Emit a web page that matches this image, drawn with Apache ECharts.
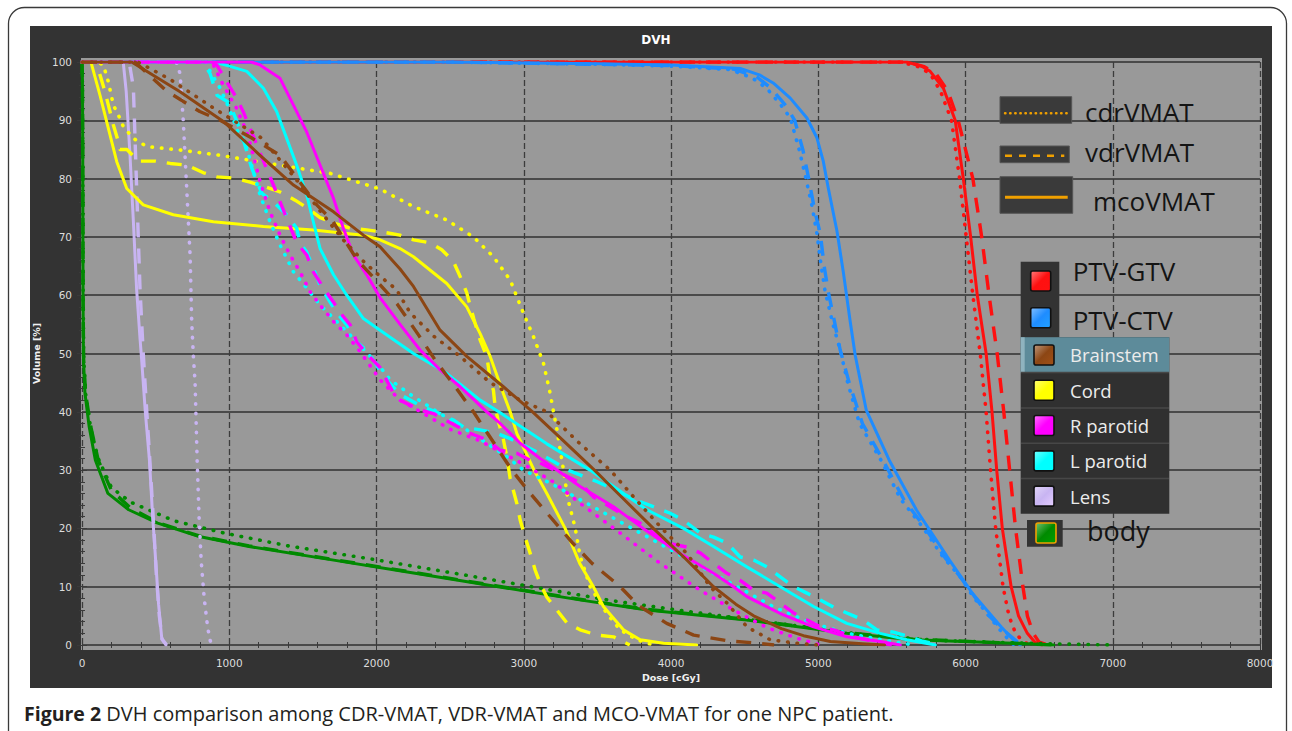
<!DOCTYPE html>
<html><head><meta charset="utf-8">
<script src="https://cdn.jsdelivr.net/npm/echarts@6/dist/echarts.min.js"></script>
<style>html,body{margin:0;padding:0;background:#fff;}#chart{width:1292px;height:731px;}</style>
</head><body><div id="chart"></div>
<script>
// ---- categories / labels ----
const methods = ['cdrVMAT', 'vdrVMAT', 'mcoVMAT'];
const structures = ['PTV-GTV', 'PTV-CTV', 'Brainstem', 'Cord', 'R parotid', 'L parotid', 'Lens', 'body'];
const structureColors = ['#ff1010', '#1e8cff', '#8c4614', '#ffff00', '#ff00ff', '#00ffff', '#c8b4f2', '#008a00'];
const chartTitle = 'DVH';
const xAxisName = 'Dose [cGy]';
const yAxisName = 'Volume [%]';
const doseRange = [0, 8000];
const volumeRange = [0, 100];
const caption = 'Figure 2';
const captionText = ' DVH comparison among CDR-VMAT, VDR-VMAT and MCO-VMAT for one NPC patient.';

// ---- series values: [dose cGy, volume %] ----
const gtvCdr = [[0,100],[5560,100],[5680,99.2],[5760,98],[5830,95],[5905,90],[5960,80],[6005,70],[6050,60],[6100,50],[6140,40],[6170,30],[6205,20],[6255,10],[6295,5],[6340,2],[6395,0.5],[6450,0]];
const gtvVdr = [[0,100],[5600,100],[5720,99.2],[5800,98],[5880,95],[5950,90],[6050,80],[6110,70],[6160,60],[6215,50],[6260,40],[6300,30],[6340,20],[6390,10],[6420,5],[6460,2],[6500,0.5],[6560,0]];
const gtvMco = [[0,100],[5600,100],[5700,99.3],[5760,98.4],[5850,95.5],[5930,90],[5985,80],[6035,70],[6080,60],[6140,50],[6180,40],[6212,30],[6250,20],[6310,10],[6360,5],[6420,2],[6470,0.5],[6520,0]];

const ctvCdr = [[0,100],[2500,100],[3500,99.6],[4000,99.3],[4400,98.7],[4550,97.3],[4650,95.5],[4750,92.5],[4810,90.4],[4870,85],[4912,80.5],[4960,75],[4991,70.6],[5020,65],[5047,60.6],[5100,55],[5149,50.6],[5200,45],[5280,38],[5426,31.7],[5560,25],[5707,20.3],[5850,15],[5961,11.8],[6060,8],[6128,6],[6220,3],[6290,1],[6330,0]];
const ctvVdr = [[0,100],[2500,100],[3500,99.6],[4000,99.4],[4420,98.8],[4580,97.5],[4680,95.5],[4780,92.5],[4840,90],[4895,85],[4935,80],[4980,74],[5014,70.6],[5040,65],[5068,60.6],[5110,55.5],[5149,50.6],[5210,45],[5300,38],[5440,31.7],[5580,25],[5720,20.3],[5860,15],[5961,11.8],[6070,8],[6160,5],[6260,2.5],[6330,1],[6380,0]];
const ctvMco = [[0,100],[2500,100],[3500,99.7],[4000,99.5],[4470,98.9],[4600,97.8],[4694,96.4],[4810,93.8],[4923,90.4],[4991,87],[5034,83],[5068,78.4],[5127,71],[5170,64],[5217,55.5],[5251,49.7],[5326,40.3],[5482,31.7],[5666,23.2],[5890,14.6],[6046,8.9],[6243,3.1],[6325,0.9],[6372,0]];

const bsCdr = [[0,100],[380,100],[600,97],[900,92],[1217,87],[1450,80],[1600,75],[1774,69.5],[1923,65.5],[2036,63],[2135,61],[2228,57],[2387,53],[2568,49.5],[2772,45],[2976,42],[3157,40],[3383,34.5],[3587,30],[3760,25],[3938,20],[4108,15.7],[4266,10],[4380,7.2],[4516,3.1],[4674,0.9],[4855,0.3],[5000,0]];
const bsVdr = [[0,100],[360,100],[575,95],[800,91.5],[938,90],[1150,87],[1345,84],[1594,75.5],[1700,72.8],[1870,66],[2000,62.5],[2140,58.5],[2285,53.2],[2398,48.9],[2534,44.3],[2658,40],[2783,35.2],[2919,30],[3044,26],[3247,20],[3328,17.6],[3464,14],[3655,10],[3777,6.8],[3971,3.7],[4154,1.7],[4392,0.7],[4600,0.3],[4700,0]];
const bsMco = [[0,100],[337,100],[666,94.9],[960,89.8],[1209,84],[1436,78.9],[1708,74.3],[1911,70.3],[2024,68.3],[2160,64.5],[2251,61.5],[2432,54],[2613,49.5],[2862,44.3],[3060,40],[3270,35],[3480,30],[3680,25],[3880,20],[4090,15],[4289,10],[4440,7],[4561,5],[4750,2.8],[4900,1.6],[5082,0.6],[5300,0.2],[5450,0]];

const cordCdr = [[0,100],[100,100],[145,99.5],[179,96.6],[213,92.6],[247,90.9],[281,88.9],[349,86.9],[440,85.5],[666,84.9],[938,84],[1345,82.3],[1685,80.9],[2024,78.2],[2251,75.2],[2477,72.9],[2658,70],[2794,66.6],[2908,62.6],[2998,56.9],[3066,52.9],[3134,48.3],[3179,43.2],[3202,40],[3225,37],[3270,30],[3300,25],[3350,20],[3383,15.2],[3451,10],[3564,5.4],[3655,2.6],[3768,0.9],[3880,0]];
const cordVdr = [[0,100],[90,100],[122,97.8],[156,94.9],[179,92.6],[213,89.2],[247,86.3],[258,85],[305,85],[383,83],[500,83],[600,82.6],[713,82.3],[825,81],[917,80.3],[1028,80.1],[1141,79.4],[1243,78.6],[1345,77.7],[1447,76.3],[1528,75],[1617,73.3],[1708,72.4],[1820,71.5],[1934,71.2],[2047,70.8],[2160,70.3],[2251,69.5],[2364,69],[2443,67.8],[2522,65.8],[2568,63.2],[2613,60.4],[2660,56],[2704,52.3],[2750,49.4],[2772,45.5],[2794,43.7],[2806,40.8],[2828,38.3],[2862,35.2],[2885,32.3],[2908,28.5],[2953,24.3],[2976,21.4],[3009,18.5],[3043,15.8],[3077,12.9],[3111,10.6],[3157,8.2],[3225,6],[3293,3.8],[3383,2.6],[3497,1.7],[3610,1.4],[3680,0.5],[3720,0]];
const cordMco = [[0,100],[60,100],[66,99.5],[122,94.3],[179,88.6],[236,82.9],[304,78.3],[416,75.5],[620,73.8],[892,72.6],[1232,71.8],[1571,71.2],[1911,70.3],[2024,69.5],[2160,68],[2251,66.6],[2477,62],[2613,58],[2704,53.4],[2772,49.5],[2862,43.1],[2908,40],[2953,36.3],[3070,30],[3157,26],[3281,20],[3380,14],[3473,10],[3541,6.6],[3677,2.6],[3791,0.9],[3950,0.3],[4175,0]];

const rpCdr = [[0,100],[860,100],[892,99.5],[960,96],[1051,92],[1119,88],[1164,84],[1209,79.5],[1277,74.3],[1345,70.3],[1413,66.9],[1481,64],[1549,60.6],[1617,58.3],[1708,55.5],[1798,53.2],[1889,50.3],[2024,45.5],[2160,42],[2300,40],[2500,37],[2704,35],[2998,31],[3200,28],[3383,24.3],[3655,19.2],[3927,14],[4198,9.4],[4425,6],[4650,3],[4850,1.2],[5014,0]];
const rpVdr = [[0,100],[880,100],[915,99.5],[983,96.6],[1051,93.8],[1096,91.4],[1200,85],[1300,78.9],[1345,76],[1458,69],[1526,66.9],[1571,64],[1639,61.3],[1708,58.8],[1753,57],[1821,54.9],[1866,52],[1950,49.5],[2024,47.6],[2115,43.2],[2160,42],[2296,40.3],[2387,39.7],[2636,36.3],[2750,35.2],[2840,33.4],[2953,32.9],[3043,31.7],[3089,31.5],[3383,27.8],[3473,25.4],[3700,22],[3790,20.9],[3880,19.2],[3972,17.5],[4108,16.8],[4198,15.8],[4289,14],[4380,12.3],[4470,11.1],[4560,9.4],[4650,8.9],[4742,7.2],[4832,5.5],[4923,4.3],[5014,3.1],[5104,2.6],[5240,1.4],[5330,0.9],[5500,0]];
const rpMco = [[0,100],[1150,100],[1209,99.5],[1345,97.2],[1436,92.6],[1526,88],[1617,82.3],[1708,76.6],[1776,71.4],[1843,66.9],[1934,63.5],[2024,59.6],[2160,55],[2296,50.6],[2432,47.2],[2568,44.3],[2749,40],[2840,38],[2976,34.6],[3111,32],[3225,30],[3383,27.2],[3610,23.7],[3811,20],[4062,15.7],[4289,12.3],[4425,10],[4515,8.3],[4742,5.4],[4968,3.1],[5194,1.4],[5421,0.6],[5557,0]];

const lpCdr = [[0,100],[840,100],[870,98.4],[938,95.5],[1000,92],[1060,88],[1119,85.2],[1164,81.2],[1209,77.2],[1277,72.6],[1345,68.6],[1436,64],[1526,61.2],[1617,58.3],[1730,55.5],[1866,52],[2024,47.7],[2092,45.5],[2251,42.6],[2432,39.7],[2613,36.9],[2885,32.3],[2998,30],[3200,27.5],[3450,24],[3700,20.5],[3950,17],[4200,13.5],[4450,10],[4700,6.5],[4950,3.8],[5200,2],[5450,0.8],[5650,0]];
const lpVdr = [[0,100],[820,100],[870,98],[917,94.3],[1000,93],[1080,88],[1150,82],[1220,77.5],[1300,76],[1390,73.8],[1458,71.5],[1481,69],[1526,67.4],[1571,64.6],[1617,61.7],[1685,58.8],[1730,57],[1798,54.9],[1866,52],[1911,51],[1957,49.7],[2050,46],[2160,43],[2300,41],[2432,39.7],[2522,38.6],[2590,37.4],[2704,36.9],[2817,36.3],[2908,35.4],[3100,33],[3300,30],[3500,28],[3750,25],[3995,22.6],[4085,21.4],[4198,19.2],[4289,18.5],[4380,17.5],[4470,15.1],[4561,14.6],[4651,13.4],[4742,11.7],[4832,10],[4923,8.9],[5014,7.7],[5104,6.5],[5194,5.5],[5306,4.3],[5398,2.6],[5511,2.2],[5625,1.4],[5700,0.7],[5830,0]];
const lpMco = [[0,100],[900,100],[1000,99.3],[1119,98.4],[1232,95.5],[1322,91.5],[1390,86.9],[1458,82.3],[1526,77.2],[1571,72.6],[1617,68],[1708,63.5],[1798,60],[1911,56],[2024,54],[2251,50],[2477,46.6],[2704,42],[2830,40],[3157,34.5],[3450,30],[3610,27.2],[3836,23.2],[4085,20],[4289,16.9],[4515,13.4],[4742,10],[4968,6.6],[5194,3.7],[5421,2],[5602,0.9],[5795,0]];

const lensCdr = [[0,100],[640,100],[666,98],[688,89.8],[711,78.3],[734,66.9],[745,55.5],[756,49.7],[768,45],[782,31.7],[795,22],[809,14.6],[830,8],[853,3.1],[868,1],[880,0]];
const lensVdr = [[0,100],[320,100],[340,97],[349,95.5],[371,78.4],[394,61],[416,50],[440,40],[465,30],[488,20],[505,12],[525,5],[545,1],[575,0]];
const lensMco = [[0,100],[280,100],[300,95],[326,84],[349,72.6],[371,61],[394,52.6],[405,49],[430,40],[458,31.7],[480,22],[500,14.6],[520,7],[542,1],[570,0]];

const bodyCdr = [[0,100],[3,96],[5,85],[8,60],[12,49],[25,43],[60,37],[110,32],[200,27],[330,24.5],[625,21.3],[965,19.2],[1400,17],[2000,14.6],[2600,12],[3100,9.8],[3600,7.6],[4100,5.8],[4700,3.8],[5300,1.8],[5800,0.8],[6400,0.3],[7000,0]];
const bodyVdr = [[0,100],[3,97],[5,85],[7,60],[11,49],[25,43],[60,37.4],[110,31.7],[200,26.5],[330,23.5],[514,21],[796,18.7],[1134,17],[1698,14.7],[2262,12.4],[2826,10.1],[3390,7.8],[3838,6.1],[4515,4.4],[5194,2.1],[5645,1],[6325,0.3],[6600,0]];
const bodyMco = [[0,100],[3,97],[5,85],[7,60],[10,49],[20,43.2],[49,37.4],[91,31.7],[176,26],[317,23.2],[514,20.9],[796,18.6],[1134,16.9],[1698,14.6],[2262,12.3],[2826,10],[3390,7.7],[3838,6],[4515,4.3],[5194,2],[5645,0.9],[6325,0.3],[6600,0]];

// structure -> [cdr, vdr, mco]; listed in drawing order (first = bottom)
const structureSeries = {
  'PTV-GTV': [gtvCdr, gtvVdr, gtvMco],
  'PTV-CTV': [ctvCdr, ctvVdr, ctvMco],
  'body': [bodyCdr, bodyVdr, bodyMco],
  'Lens': [lensCdr, lensVdr, lensMco],
  'Cord': [cordCdr, cordVdr, cordMco],
  'L parotid': [lpCdr, lpVdr, lpMco],
  'R parotid': [rpCdr, rpVdr, rpMco],
  'Brainstem': [bsCdr, bsVdr, bsMco]
};

// ---- styles ----
const methodStyles = [
  { type: [0.5, 9], width: 3.6, cap: 'round' },
  { type: [15, 11], width: 3.4, cap: 'butt' },
  { type: 'solid', width: 3, cap: 'round' }
];
const labelFont = 'DejaVu Sans';
const axisNameFont = 'DejaVu Sans';
const legendFont = 'Open Sans';
const orange = '#f0a000';

const series = [];
Object.keys(structureSeries).forEach(function (s) {
  const color = structureColors[structures.indexOf(s)];
  structureSeries[s].forEach(function (data, mi) {
    const st = methodStyles[mi];
    series.push({
      type: 'line', name: s + ' ' + methods[mi], data: data,
      xAxisIndex: 0, yAxisIndex: 0,
      showSymbol: false, symbol: 'none', smooth: false, silent: true,
      animation: false, clip: true,
      lineStyle: { color: color, width: st.width, type: st.type, cap: st.cap, join: 'round' }
    });
  });
});

// ---- decorations and legend (graphic) ----
const g = [];
g.push({ type: 'rect', z: -30, shape: { x: 8.5, y: 7.5, width: 1278, height: 745, r: 16 }, style: { fill: '#ffffff', stroke: '#3a3a3a', lineWidth: 1.3 } });
g.push({ type: 'rect', z: -20, shape: { x: 30, y: 26, width: 1242, height: 662 }, style: { fill: '#333333' } });
g.push({ type: 'rect', z: -10, shape: { x: 81, y: 58, width: 1181, height: 592 }, style: { fill: '#999999' } });
g.push({ type: 'text', z: 50, x: 656, y: 40, style: { text: chartTitle, fill: '#ffffff', font: 'bold 12px "DejaVu Sans"', textAlign: 'center', textVerticalAlign: 'middle', align: 'center', verticalAlign: 'middle' } });

// method legend
const methodBoxes = [
  { x: 1000, y: 96.7, w: 71.7, h: 26.6, ly: 113.3, tx: 1085, ty: 112, dash: [0.5, 4.6], lw: 2.4, cap: 'round' },
  { x: 1000, y: 146, w: 69.3, h: 16.7, ly: 155.7, tx: 1085, ty: 152, dash: [7, 7], lw: 2.6, cap: 'butt' },
  { x: 1000, y: 176.7, w: 72.7, h: 36.6, ly: 197.3, tx: 1093, ty: 201, dash: null, lw: 3, cap: 'butt' }
];
methodBoxes.forEach(function (b, i) {
  g.push({ type: 'rect', z: 100, shape: { x: b.x, y: b.y, width: b.w, height: b.h }, style: { fill: '#3a3a3a', stroke: '#555', lineWidth: 1 } });
  g.push({ type: 'line', z: 101, shape: { x1: b.x + 5, y1: b.ly, x2: b.x + b.w - 5, y2: b.ly }, style: { stroke: orange, lineWidth: b.lw, lineDash: b.dash, lineCap: b.cap } });
  g.push({ type: 'text', z: 101, x: b.tx, y: b.ty, style: { text: methods[i], fill: '#141414', font: '26px "' + legendFont + '"', textAlign: 'left', textVerticalAlign: 'middle', align: 'left', verticalAlign: 'middle' } });
});

function square(x, yc, color, stroke) {
  return { type: 'rect', z: 102, shape: { x: x, y: yc - 10, width: 20, height: 20, r: 2 },
    style: { fill: { type: 'linear', x: 0, y: 0, x2: 1, y2: 1, colorStops: [{ offset: 0, color: echarts.color.lift(color, 0.45) }, { offset: 0.5, color: color }, { offset: 1, color: echarts.color.lift(color, -0.15) }] },
      stroke: stroke || '#111', lineWidth: 1.6 } };
}

// PTV box
g.push({ type: 'rect', z: 100, shape: { x: 1020.7, y: 261.7, width: 38.6, height: 75.6 }, style: { fill: '#333333' } });
g.push(square(1030.7, 281, structureColors[0]));
g.push(square(1030.7, 317.8, structureColors[1]));
g.push({ type: 'text', z: 101, x: 1072.7, y: 271, style: { text: structures[0], fill: '#141414', font: '26px "' + legendFont + '"', textAlign: 'left', textVerticalAlign: 'middle', align: 'left', verticalAlign: 'middle' } });
g.push({ type: 'text', z: 101, x: 1072.7, y: 320, style: { text: structures[1], fill: '#141414', font: '26px "' + legendFont + '"', textAlign: 'left', textVerticalAlign: 'middle', align: 'left', verticalAlign: 'middle' } });

// OAR panel
const panelTop = 337.3, rowH = 35.3;
g.push({ type: 'rect', z: 100, shape: { x: 1020.7, y: panelTop, width: 148.6, height: rowH * 5 }, style: { fill: '#303030' } });
g.push({ type: 'rect', z: 100, shape: { x: 1020.7, y: panelTop, width: 148.6, height: rowH }, style: { fill: '#5d8b9a' } });
g.push({ type: 'rect', z: 100, shape: { x: 1020.7, y: panelTop, width: 4, height: rowH }, style: { fill: '#8fb3bf' } });
for (let i = 2; i <= 6; i++) {
  const yc = panelTop + rowH * (i - 2) + rowH / 2;
  if (i > 2) g.push({ type: 'line', z: 101, shape: { x1: 1021, y1: panelTop + rowH * (i - 2), x2: 1169, y2: panelTop + rowH * (i - 2) }, style: { stroke: '#474747', lineWidth: 1.5 } });
  g.push(square(1034, yc, structureColors[i]));
  g.push({ type: 'text', z: 101, x: 1070, y: yc, style: { text: structures[i], fill: '#ececec', font: '18.5px "' + legendFont + '"', textAlign: 'left', textVerticalAlign: 'middle', align: 'left', verticalAlign: 'middle' } });
}
// body
g.push({ type: 'rect', z: 100, shape: { x: 1027, y: 520, width: 35.7, height: 26.7 }, style: { fill: '#333333' } });
g.push(square(1036, 533, structureColors[7], orange));
g.push({ type: 'text', z: 101, x: 1087, y: 530, style: { text: structures[7], fill: '#141414', font: '27px "' + legendFont + '"', textAlign: 'left', textVerticalAlign: 'middle', align: 'left', verticalAlign: 'middle' } });

// caption
g.push({ type: 'text', z: 10, x: 24, y: 713, style: { text: '{b|' + caption + '}' + captionText, fill: '#231f20', fontSize: 20, fontFamily: 'Open Sans', rich: { b: { fontWeight: 'bold', fontSize: 19.5, fontFamily: 'Open Sans', fill: '#231f20' } }, textAlign: 'left', textVerticalAlign: 'middle', align: 'left', verticalAlign: 'middle' } });

const tickCommon = { show: true, inside: true, length: 5, lineStyle: { color: '#3a3a3a', width: 1 } };
const minorCommon = { show: true, splitNumber: 5, length: 3, lineStyle: { color: '#3a3a3a', width: 1 } };
const plainNumber = function (v) { return String(v); };

const chart = echarts.init(document.getElementById('chart'), null, { renderer: 'svg', width: 1292, height: 731 });
chart.setOption({
  animation: false,
  backgroundColor: 'transparent',
  grid: { left: 82, right: 32, top: 62, bottom: 86, show: true, backgroundColor: '#999999', borderWidth: 0, containLabel: false },
  xAxis: [{
    type: 'value', min: doseRange[0], max: doseRange[1], interval: 1000,
    name: xAxisName, nameLocation: 'middle', nameGap: 27,
    nameTextStyle: { color: '#f0f0f0', fontWeight: 'bold', fontSize: 9.5, fontFamily: axisNameFont },
    axisLine: { show: false },
    axisTick: tickCommon, minorTick: minorCommon,
    axisLabel: { color: '#dddddd', fontSize: 10.5, fontFamily: labelFont, margin: 12, formatter: plainNumber, showMaxLabel: true },
    splitLine: { show: true, lineStyle: { color: '#3c3c3c', width: 1.3, type: [6, 3] } },
    minorSplitLine: { show: false }
  }, {
    type: 'value', position: 'top', min: doseRange[0], max: doseRange[1], interval: 1000,
    axisLine: { show: false }, axisTick: tickCommon, minorTick: minorCommon,
    axisLabel: { show: false }, splitLine: { show: false }
  }],
  yAxis: [{
    type: 'value', min: volumeRange[0], max: volumeRange[1], interval: 10,
    name: yAxisName, nameLocation: 'middle', nameGap: 33, nameRotate: 90,
    nameTextStyle: { color: '#f0f0f0', fontWeight: 'bold', fontSize: 9.5, fontFamily: axisNameFont },
    axisLine: { show: false },
    axisTick: tickCommon, minorTick: minorCommon,
    axisLabel: { color: '#dddddd', fontSize: 10.5, fontFamily: labelFont, margin: 10, formatter: plainNumber },
    splitLine: { show: true, lineStyle: { color: '#4a4a4a', width: 2, type: 'solid' } }
  }, {
    type: 'value', position: 'right', min: volumeRange[0], max: volumeRange[1], interval: 10,
    axisLine: { show: false }, axisTick: tickCommon, minorTick: minorCommon,
    axisLabel: { show: false }, splitLine: { show: false }
  }],
  graphic: g,
  series: series
});
</script>
</body></html>
